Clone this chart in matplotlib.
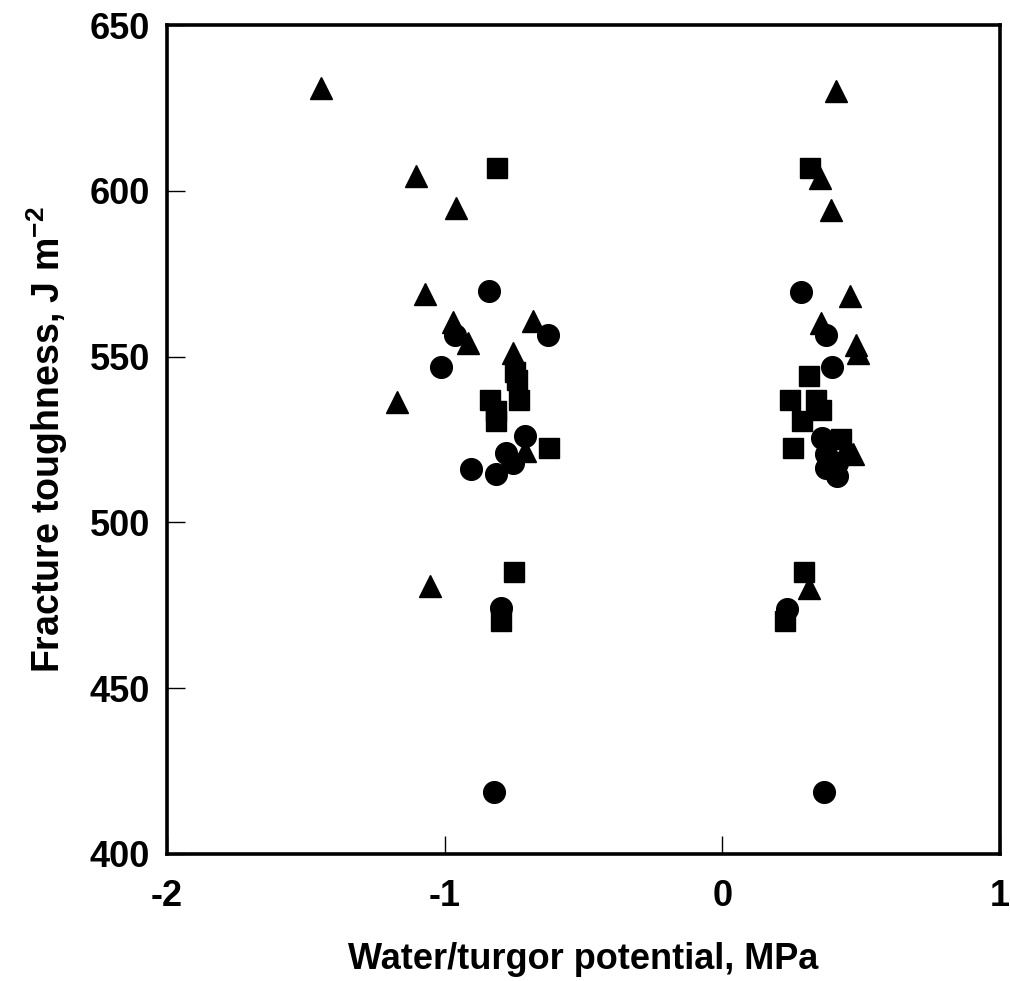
import numpy as np
import matplotlib.pyplot as plt

plt.rcParams['font.family'] = ['Liberation Sans', 'DejaVu Sans']
plt.rcParams['font.weight'] = 'bold'
plt.rcParams['mathtext.default'] = 'bf'

# triangles
tri_x = [-1.444, -1.103, -0.958, -1.069, -0.970, -0.681, -0.916, -0.754, -1.172, -0.711, -1.052,
         0.411, 0.351, 0.392, 0.459, 0.354, 0.480, 0.490, 0.450, 0.470, 0.311]
tri_y = [630.9, 604.6, 594.8, 568.8, 560.5, 560.6, 554.0, 551.0, 536.4, 521.5, 480.8,
         630.2, 603.8, 594.3, 568.4, 560.1, 553.5, 551.0, 523.0, 520.5, 480.3]

# squares
sq_x = [-0.811, -0.745, -0.741, -0.838, -0.732, -0.816, -0.816, -0.625, -0.751, -0.796,
        0.315, 0.311, 0.245, 0.336, 0.354, 0.287, 0.254, 0.426, 0.293, 0.227]
sq_y = [606.8, 545.5, 543.0, 537.0, 537.0, 533.5, 530.5, 522.5, 485.1, 470.3,
        606.8, 544.1, 537.0, 537.0, 534.0, 530.5, 522.5, 525.0, 485.0, 470.3]

# circles
ci_x = [-0.841, -0.964, -0.627, -1.012, -0.711, -0.778, -0.754, -0.904, -0.816, -0.796, -0.823,
        0.285, 0.372, 0.396, 0.359, 0.372, 0.414, 0.372, 0.414, 0.233, 0.368]
ci_y = [569.7, 556.6, 556.6, 546.9, 526.0, 521.0, 518.0, 516.2, 514.5, 474.3, 418.7,
        569.4, 556.6, 546.9, 525.5, 520.5, 518.0, 516.5, 514.0, 473.8, 418.7]

xticks = [-2, -1, 0, 1]
yticks = [400, 450, 500, 550, 600, 650]

fig = plt.figure(figsize=(10.1, 9.81), dpi=100)
ax = fig.add_axes([0.1653, 0.1295, 0.8247, 0.845])

ax.plot(sq_x, sq_y, 's', color='black', markersize=13.7, linestyle='none')
ax.plot(tri_x, tri_y, '^', color='black', markersize=15.5, linestyle='none')
ax.plot(ci_x, ci_y, 'o', color='black', markersize=15.6, linestyle='none')

ax.set_xlim(-2, 1)
ax.set_ylim(400, 650)
ax.set_xticks(xticks)
ax.set_yticks(yticks)
ax.set_xticklabels([str(t) for t in xticks])
ax.tick_params(direction='in', length=13, width=1, labelsize=26)
ax.tick_params(axis='x', pad=18)
ax.tick_params(axis='y', pad=12)

for s in ax.spines.values():
    s.set_linewidth(2.6)

ax.set_xlabel('Water/turgor potential, MPa', fontsize=26, fontweight='bold', labelpad=20)
ax.set_ylabel('Fracture toughness, J m$^{\\mathregular{-2}}$', fontsize=27,
              fontweight='bold', labelpad=14)

fig.savefig('out.png')
